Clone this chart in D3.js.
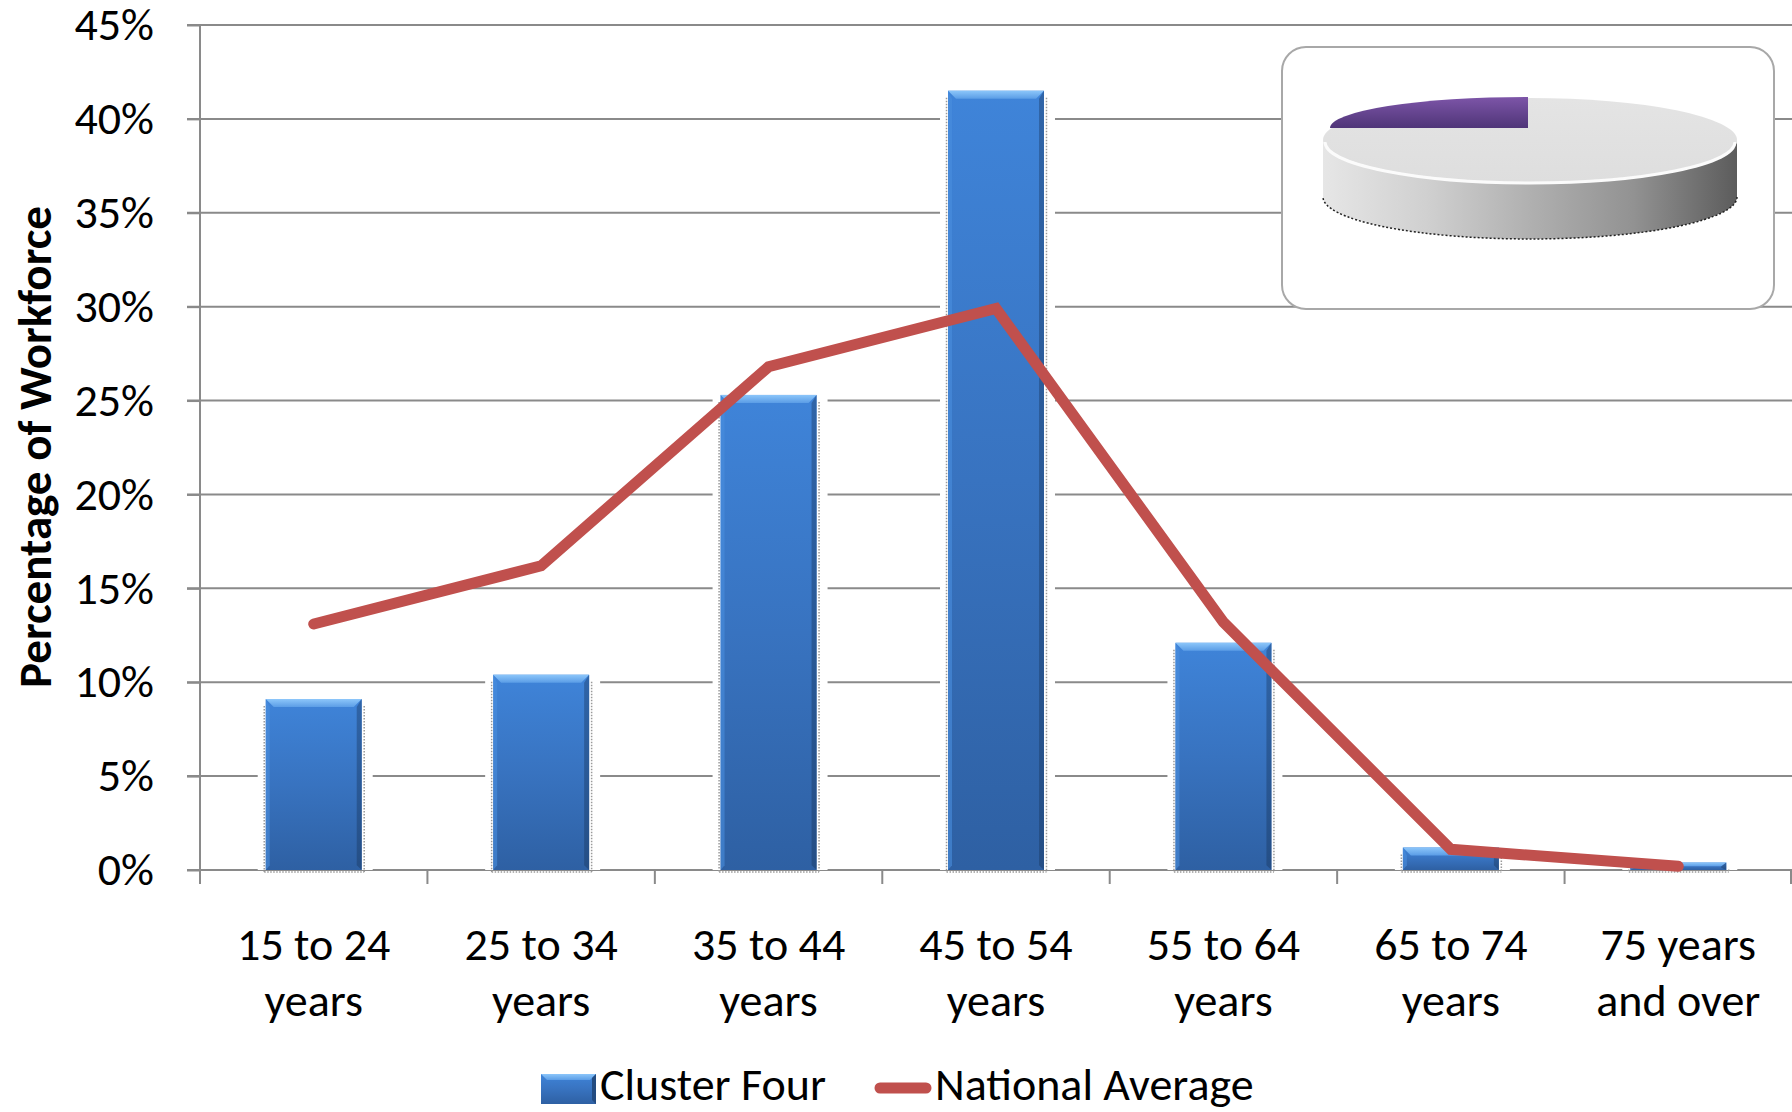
<!DOCTYPE html>
<html>
<head>
<meta charset="utf-8">
<script src="https://cdn.jsdelivr.net/npm/d3@7"></script>
<style>
  html, body { margin: 0; padding: 0; background: #fff; }
  svg { display: block; }
  text { font-family: Calibri, Carlito, "Open Sans", sans-serif; fill: #000; }
</style>
</head>
<body>
<svg id="chart" width="1792" height="1112"></svg>
<script>
// Workforce age distribution: Cluster Four vs. national average (percent)
const categories = ["15 to 24 years", "25 to 34 years", "35 to 44 years", "45 to 54 years",
                    "55 to 64 years", "65 to 74 years", "75 years and over"];
const categoryLines = [["15 to 24", "years"], ["25 to 34", "years"], ["35 to 44", "years"],
                       ["45 to 54", "years"], ["55 to 64", "years"], ["65 to 74", "years"],
                       ["75 years", "and over"]];
const clusterFour = [9.1, 10.4, 25.3, 41.5, 12.1, 1.2, 0.4];
const nationalAverage = [13.1, 16.2, 26.8, 29.9, 13.2, 1.1, 0.2];
const yTicks = [0, 5, 10, 15, 20, 25, 30, 35, 40, 45];
const seriesNames = ["Cluster Four", "National Average"];
// inset pie: cluster share vs. remainder
const insetShares = [25, 75];

const FONT = "Calibri, Carlito, 'Open Sans', sans-serif";
const svg = d3.select("#chart");
const plotLeft = 200, plotRight = 1792, plotTop = 25, plotBase = 870;

const x = d3.scaleBand().domain(categories).range([plotLeft, plotRight])
  .paddingInner(0.578).paddingOuter(0.289);
const y = d3.scaleLinear().domain([0, 45]).range([plotBase, plotTop]);
const bw = x.bandwidth();
const gap = x.step() - bw;

const defs = svg.append("defs");
function grad(id, stops, horizontal) {
  const g = defs.append("linearGradient").attr("id", id)
    .attr("x1", 0).attr("y1", 0).attr("x2", horizontal ? 1 : 0).attr("y2", horizontal ? 0 : 1);
  stops.forEach(s => g.append("stop").attr("offset", s[0]).attr("stop-color", s[1]));
}
grad("barBody", [[0, "#3f84d9"], [0.5, "#3873c0"], [1, "#2e60a3"]]);
grad("barTop", [[0, "#8cc6fa"], [1, "#5b9de6"]]);
grad("barRight", [[0, "#2d5f9f"], [1, "#234b80"]], false);
grad("pieSide", [[0, "#e6e6e6"], [0.25, "#d0d0d0"], [0.5, "#b0b0b0"], [0.75, "#929292"], [1, "#5c5c5c"]], true);
grad("pieTop", [[0, "#e4e4e4"], [1, "#dedede"]]);
grad("purple", [[0, "#7d55a8"], [1, "#4f3578"]]);

// gridlines
svg.append("g").selectAll("line").data(yTicks).join("line")
  .attr("x1", plotLeft - 13).attr("x2", plotRight)
  .attr("y1", d => y(d)).attr("y2", d => y(d))
  .attr("stroke", "#8a8a8a").attr("stroke-width", 2);

// y axis with percent labels
const yAxis = svg.append("g").attr("transform", `translate(${plotLeft},0)`)
  .call(d3.axisLeft(y).tickValues(yTicks).tickSize(13).tickPadding(33).tickFormat(d => d + "%"));
yAxis.select(".domain").attr("stroke", "#8a8a8a").attr("stroke-width", 2)
  .attr("d", `M0,${plotTop}V${plotBase + 14}`);
yAxis.selectAll(".tick line").attr("stroke", "#8a8a8a").attr("stroke-width", 2);
yAxis.selectAll(".tick text").attr("font-size", 46).attr("font-family", FONT).attr("fill", "#000");

// x axis: baseline and category boundary ticks
const boundaries = categories.map(c => x(c) - gap / 2).concat([plotRight - 1]);
svg.append("line").attr("x1", plotLeft).attr("x2", plotRight).attr("y1", plotBase).attr("y2", plotBase)
  .attr("stroke", "#8a8a8a").attr("stroke-width", 2);
svg.append("g").selectAll("line").data(boundaries).join("line")
  .attr("x1", d => d).attr("x2", d => d).attr("y1", plotBase).attr("y2", plotBase + 14)
  .attr("stroke", "#8a8a8a").attr("stroke-width", 2);

// category labels (two lines each)
const xl = svg.append("g").selectAll("text").data(categories).join("text")
  .attr("text-anchor", "middle").attr("font-size", 46)
  .attr("x", d => x(d) + bw / 2);
xl.each(function(d, i) {
  const t = d3.select(this);
  categoryLines[i].forEach((ln, j) => {
    t.append("tspan").attr("x", x(d) + bw / 2).attr("y", 960 + j * 56).text(ln);
  });
});

// inset with 3D pie
const inset = svg.append("g");
inset.append("rect").attr("x", 1282).attr("y", 47).attr("width", 492).attr("height", 262)
  .attr("rx", 24).attr("fill", "#fff").attr("stroke", "#a8a8a8").attr("stroke-width", 2);
const pc = { x: 1530, y: 140, rx: 207, ry: 42, depth: 57 };
inset.append("path")
  .attr("d", `M${pc.x - pc.rx},${pc.y} A${pc.rx},${pc.ry} 0 0 0 ${pc.x + pc.rx},${pc.y}
              L${pc.x + pc.rx},${pc.y + pc.depth} A${pc.rx},${pc.ry} 0 0 1 ${pc.x - pc.rx},${pc.y + pc.depth} Z`)
  .attr("fill", "url(#pieSide)");
inset.append("path")
  .attr("d", `M${pc.x + pc.rx},${pc.y + pc.depth} A${pc.rx},${pc.ry} 0 0 1 ${pc.x - pc.rx},${pc.y + pc.depth}`)
  .attr("fill", "none").attr("stroke", "#222").attr("stroke-width", 1.5).attr("stroke-dasharray", "2,2");
inset.append("ellipse").attr("cx", pc.x).attr("cy", pc.y).attr("rx", pc.rx).attr("ry", pc.ry)
  .attr("fill", "url(#pieTop)");
inset.append("path")
  .attr("d", `M${pc.x - pc.rx + 2},${pc.y + 2} A${pc.rx - 2},${pc.ry - 1} 0 0 0 ${pc.x + pc.rx - 2},${pc.y + 2}`)
  .attr("fill", "none").attr("stroke", "#fbfbfb").attr("stroke-width", 3);
const pie = d3.pie().sort(null).startAngle(-Math.PI / 2).endAngle(1.5 * Math.PI);
const arc = d3.arc().innerRadius(0).outerRadius(1);
inset.append("g").attr("transform", `translate(1528,128) scale(198,31)`)
  .selectAll("path").data(pie(insetShares).slice(0, 1)).join("path")
  .attr("d", arc).attr("fill", "url(#purple)");

// bars: white halo, dotted shadow edge, bevelled body
const bars = svg.append("g").selectAll("g").data(clusterFour).join("g");
bars.each(function(v, i) {
  const g = d3.select(this);
  const bx = x(categories[i]), by = y(v), bh = plotBase - by;
  g.append("rect").attr("x", bx - 8).attr("y", by).attr("width", bw + 19).attr("height", bh)
    .attr("fill", "#fff");
  [bx - 1.5, bx + bw + 2.5].forEach(lx => {
    g.append("line").attr("x1", lx).attr("x2", lx).attr("y1", Math.min(by + 7, plotBase)).attr("y2", plotBase + 2)
      .attr("stroke", "#9a9a9a").attr("stroke-width", 1.5).attr("stroke-dasharray", "1.5,1.5");
  });
  g.append("line").attr("x1", bx - 1.5).attr("x2", bx + bw + 2.5).attr("y1", plotBase + 2).attr("y2", plotBase + 2)
    .attr("stroke", "#9a9a9a").attr("stroke-width", 1.5).attr("stroke-dasharray", "1.5,1.5");
  g.append("rect").attr("x", bx).attr("y", by).attr("width", bw).attr("height", bh)
    .attr("fill", "url(#barBody)");
  const b = Math.min(8, bh / 2);
  g.append("path").attr("d", `M${bx},${by} L${bx + bw},${by} L${bx + bw - b},${by + b} L${bx + b},${by + b} Z`)
    .attr("fill", "url(#barTop)");
  g.append("path").attr("d", `M${bx + bw},${by} L${bx + bw},${plotBase} L${bx + bw - 5},${plotBase - b * 0.6} L${bx + bw - 5},${by + b} Z`)
    .attr("fill", "url(#barRight)").attr("opacity", 0.85);
  g.append("path").attr("d", `M${bx},${by} L${bx},${plotBase} L${bx + 4},${plotBase - b * 0.6} L${bx + 4},${by + b} Z`)
    .attr("fill", "#4a8ede").attr("opacity", 0.6);
});

// national average line
const line = d3.line().x((d, i) => x(categories[i]) + bw / 2).y(d => y(d));
svg.append("path").datum(nationalAverage).attr("d", line)
  .attr("fill", "none").attr("stroke", "#c0504d").attr("stroke-width", 11)
  .attr("stroke-linecap", "round").attr("stroke-linejoin", "miter");

// y axis title
svg.append("text").attr("transform", "translate(51,447) rotate(-90)")
  .attr("text-anchor", "middle").attr("font-size", 47).attr("font-weight", "bold")
  .text("Percentage of Workforce");

// legend
const lg = svg.append("g");
lg.append("rect").attr("x", 541).attr("y", 1074).attr("width", 55).attr("height", 30).attr("fill", "url(#barBody)");
lg.append("path").attr("d", "M541,1074 L596,1074 L590,1080 L547,1080 Z").attr("fill", "url(#barTop)");
lg.append("path").attr("d", "M596,1074 L596,1104 L592,1100 L592,1078 Z").attr("fill", "#234b80");
lg.append("text").attr("x", 600).attr("y", 1100).attr("font-size", 46).text(seriesNames[0]);
lg.append("line").attr("x1", 880).attr("x2", 926).attr("y1", 1088).attr("y2", 1088)
  .attr("stroke", "#c0504d").attr("stroke-width", 11).attr("stroke-linecap", "round");
lg.append("text").attr("x", 935).attr("y", 1100).attr("font-size", 46).text(seriesNames[1]);
</script>
</body>
</html>
